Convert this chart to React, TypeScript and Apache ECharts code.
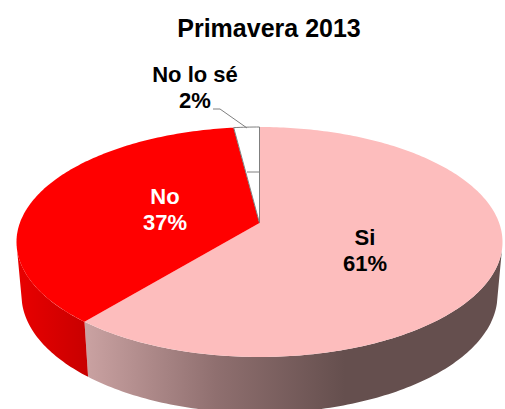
import React, { useEffect, useRef } from "react";
import * as echarts from "echarts";

const titleText = "Primavera 2013";
const categories = ["Si", "No", "No lo sé"];
const values = [61, 37, 2];
const topColors = ["#fdbdbd", "#ff0000", "#ffffff"];

const W = 505;
const H = 409;
// top face ellipse, bottom ellipse, perspective shift of the pie's centre
const top = { cx: 259.5, cy: 242, rx: 243, ry: 115 };
const bottom = { cx: 259.5, cy: 295, rx: 238, ry: 118 };
const t = -0.165;
const silhouette = 0.07; // projected height at which the side's outline leaves the top face
const total = values.reduce((a, b) => a + b, 0);

function circle(theta: number) {
  const u = Math.sin(theta);
  const v = -Math.cos(theta);
  const d = 1 + t * v;
  return { u: (u * Math.sqrt(1 - t * t)) / d, v: (v + t) / d };
}
function project(e: typeof top, p: { u: number; v: number }): [number, number] {
  return [e.cx + e.rx * p.u, e.cy + e.ry * p.v];
}
function arcPts(e: typeof top, a: number, b: number): [number, number][] {
  const n = Math.max(4, Math.ceil(Math.abs(b - a) * 60));
  const out: [number, number][] = [];
  for (let i = 0; i <= n; i++) out.push(project(e, circle(a + ((b - a) * i) / n)));
  return out;
}
function visibleRange(a: number, b: number): [number, number] | null {
  const v = (silhouette - t) / (1 - t * silhouette);
  const lo = Math.acos(-v);
  const hi = 2 * Math.PI - lo;
  const s = Math.max(a, lo);
  const e = Math.min(b, hi);
  return e > s ? [s, e] : null;
}
function grad(stops: [number, string][], x0: number, x1: number) {
  return new echarts.graphic.LinearGradient(
    x0, 0, x1, 0,
    stops.map(([offset, color]) => ({ offset, color })),
    true
  );
}

export default function App() {
  const ref = useRef<HTMLDivElement>(null);
  useEffect(() => {
    const chart = echarts.init(ref.current!, undefined, { renderer: "svg" });
    const sideFill = [
      grad([[0, "#c9a1a1"], [0.5, "#8f6f6f"], [1, "#654f4e"]], 88, 345),
      grad([[0, "#e80000"], [1, "#c80000"]], 20, 88),
      "#999999",
    ];
    const renderItem = (params: any, api: any) => {
      const i = params.dataIndex;
      const val = api.value(0) as number;
      let before = 0;
      for (let k = 0; k < i; k++) before += values[k];
      const a = (before / total) * 2 * Math.PI;
      const b = ((before + val) / total) * 2 * Math.PI;
      const children: any[] = [];
      const r = visibleRange(a, b);
      if (r) {
        const pts = [...arcPts(top, r[0], r[1]), ...arcPts(bottom, r[0], r[1]).reverse()];
        children.push({
          type: "polygon",
          shape: { points: pts },
          style: { fill: sideFill[i], stroke: null },
          silent: true,
        });
      }
      const tip = project(top, { u: 0, v: t });
      const facePts = [tip, ...arcPts(top, a, b)];
      children.push({
        type: "polygon",
        shape: { points: facePts },
        style:
          i === 2
            ? { fill: topColors[i], stroke: "#7f7f7f", lineWidth: 1 }
            : { fill: topColors[i], stroke: null },
        silent: true,
      });
      return { type: "group", children };
    };
    chart.setOption({
      animation: false,
      backgroundColor: "#ffffff",
      title: {
        text: titleText,
        left: 264,
        top: 10,
        textAlign: "center",
        textStyle: {
          fontFamily: "Liberation Sans",
          fontWeight: "bold",
          fontSize: 25,
          color: "#000000",
        },
      },
      series: [
        {
          type: "custom",
          coordinateSystem: "none",
          renderItem,
          data: values.map((v, i) => ({ name: categories[i], value: [v] })),
          silent: true,
        },
      ],
      graphic: [
        { type: "line", shape: { x1: 247, y1: 172, x2: 259, y2: 172 }, style: { stroke: "#7f7f7f", lineWidth: 1 }, z: 10 },
        { type: "polyline", shape: { points: [[213, 109], [220, 109], [247, 128]] }, style: { stroke: "#7f7f7f", fill: null, lineWidth: 1 }, z: 10 },
        ...[
          { s: `${categories[0]}\n${values[0]}%`, x: 365, y: 250, c: "#000000" },
          { s: `${categories[1]}\n${values[1]}%`, x: 165, y: 209, c: "#ffffff" },
          { s: `${categories[2]}\n${values[2]}%`, x: 195, y: 87, c: "#000000" },
        ].map((l) => ({
          type: "text",
          x: l.x,
          y: l.y,
          z: 11,
          style: {
            text: l.s,
            fill: l.c,
            align: "center",
            verticalAlign: "middle",
            fontFamily: "Liberation Sans",
            fontWeight: "bold",
            fontSize: 22,
            lineHeight: 26,
          },
        })),
      ],
    });
    return () => chart.dispose();
  }, []);
  return (
    <div
      ref={ref}
      style={{ position: "fixed", left: 0, top: 0, width: W, height: H }}
    />
  );
}
